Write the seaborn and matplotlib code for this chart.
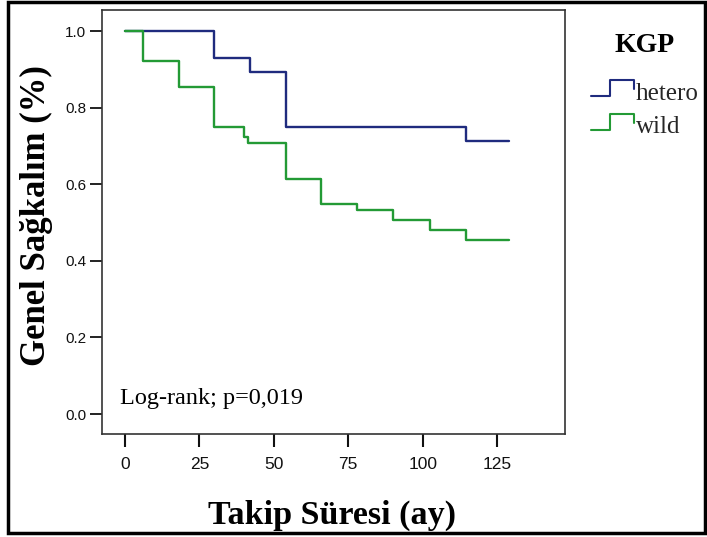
import numpy as np
import pandas as pd
import matplotlib
matplotlib.use("Agg")
import matplotlib.pyplot as plt
import seaborn as sns
from matplotlib import font_manager
from matplotlib.lines import Line2D
from matplotlib.legend_handler import HandlerBase
from matplotlib.patches import Rectangle

# ---- data ----
groups = ["hetero", "wild"]
hetero_times = [0, 30, 42, 54, 114.5, 129]
hetero_surv = [1.0, 0.929, 0.893, 0.750, 0.714, 0.714]
wild_times = [0, 6, 18, 30, 40, 41.5, 54, 66, 78, 90, 102.5, 114.5, 129]
wild_surv = [1.0, 0.921, 0.854, 0.750, 0.723, 0.708, 0.615, 0.548, 0.534, 0.508, 0.480, 0.454, 0.454]
x_ticks = [0, 25, 50, 75, 100, 125]
y_ticks = [0.0, 0.2, 0.4, 0.6, 0.8, 1.0]
colors = {"hetero": "#1f2b7e", "wild": "#239a35"}

df = pd.concat([
    pd.DataFrame({"t": hetero_times, "s": hetero_surv, "group": "hetero"}),
    pd.DataFrame({"t": wild_times, "s": wild_surv, "group": "wild"}),
], ignore_index=True)

sns.set_style("ticks")
names = {f.name for f in font_manager.fontManager.ttflist}
narrow = "Liberation Sans Narrow" if "Liberation Sans Narrow" in names else "Liberation Sans"
serif = ["Liberation Serif", "DejaVu Serif"]
plt.rcParams["font.family"] = ["Liberation Sans", "DejaVu Sans"]

fig = plt.figure(figsize=(7.07, 5.37), dpi=100)
ax = fig.add_axes([102 / 707, 1 - 434 / 537, 463 / 707, 424 / 537])

sns.lineplot(data=df, x="t", y="s", hue="group", hue_order=groups,
             palette=colors, drawstyle="steps-post", estimator=None,
             sort=False, linewidth=1.7, legend=False, ax=ax)

ax.set_xlim(-7.7, 147.8)
ax.set_ylim(-0.052, 1.055)
ax.set_xticks(x_ticks)
ax.set_xticklabels([str(v) for v in x_ticks], fontfamily=narrow, fontsize=12.5)
ax.set_yticks(y_ticks)
ax.set_yticklabels([f"{v:.1f}" for v in y_ticks], fontsize=11)
ax.tick_params(axis="x", length=9.5, width=1.5, pad=7, colors="#111111")
ax.tick_params(axis="y", length=8.5, width=1.3, pad=3, colors="#111111")
for sp in ax.spines.values():
    sp.set_visible(True)
    sp.set_linewidth(1.2)
    sp.set_color("#333333")

ax.set_xlabel("Takip Süresi (ay)", fontfamily=serif, fontweight="bold", fontsize=24.5,
              color="black")
ax.xaxis.set_label_coords(0.497, -0.191)
ax.xaxis.label.set_verticalalignment("center")
ax.set_ylabel("Genel Sağkalım (%)", fontfamily=serif, fontweight="bold", fontsize=25,
              color="black")
ax.yaxis.set_label_coords(-0.142, 0.515)
ax.yaxis.label.set_verticalalignment("center")

ax.text(-1.5, 0.04, "Log-rank; p=0,019", fontfamily=serif, fontsize=17.5,
        va="center", ha="left", color="black")


class StepHandler(HandlerBase):
    def create_artists(self, legend, orig_handle, xdescent, ydescent,
                       width, height, fontsize, trans):
        x0 = -xdescent
        y0 = -ydescent
        xs = np.array([0, 0.45, 0.45, 1.0, 1.0]) * width + x0
        ys = np.array([0.2, 0.2, 1.1, 1.1, 0.6]) * height + y0
        ln = Line2D(xs, ys, color=orig_handle.get_color(), linewidth=1.5,
                    transform=trans)
        return [ln]


fig.text(645 / 707, 1 - 45 / 537, "KGP", fontfamily=serif, fontweight="bold",
         fontsize=20, ha="center", va="center", color="black")

handles = [Line2D([], [], color=colors[g]) for g in groups]
leg = fig.legend(handles, groups, loc="upper left",
                 bbox_to_anchor=(591 / 707, 1 - 82 / 537),
                 frameon=False, borderpad=0, borderaxespad=0,
                 handlelength=1.7, handletextpad=0.1, labelspacing=0.45,
                 prop={"family": serif, "size": 18},
                 handler_map={Line2D: StepHandler()})

fig.patches.append(Rectangle((8 / 707, 1 - 533 / 537), 697 / 707, 531 / 537,
                             transform=fig.transFigure, fill=False,
                             edgecolor="black", linewidth=2.5))

fig.savefig("out.png", dpi=100)
